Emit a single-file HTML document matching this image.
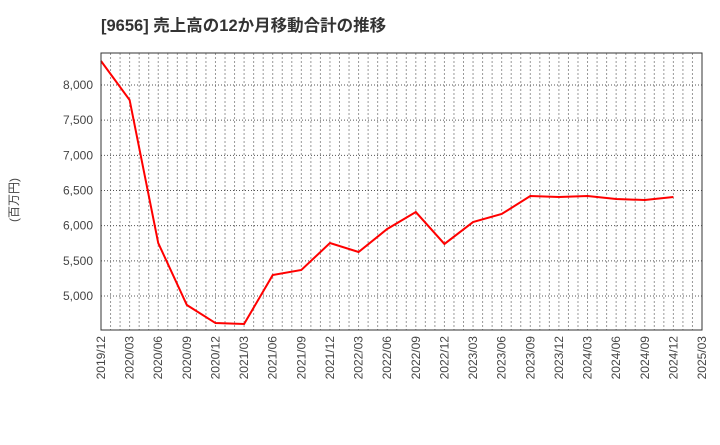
<!DOCTYPE html>
<html><head><meta charset="utf-8"><style>
body{margin:0;background:#fff;}
svg text{font-family:"Liberation Sans","Noto Sans CJK JP",sans-serif;}
</style></head><body>
<svg id="chart" width="720" height="440" xmlns="http://www.w3.org/2000/svg">
<text x="101" y="31" font-size="16.5" font-weight="bold" fill="#333">[9656]  売上高の12か月移動合計の推移</text>
<text transform="translate(18,200) rotate(-90)" font-size="12" fill="#444" text-anchor="middle">(百万円)</text>
<g id="grid"></g>
<g id="yticks"></g>
<g id="xticks"></g>
<polyline id="line" fill="none" stroke="#ff0000" stroke-width="2"/>
<rect x="101" y="53" width="601" height="277" fill="none" stroke="#333" stroke-width="1"/>
</svg>
<script>
const categories=["2019/12","2020/03","2020/06","2020/09","2020/12","2021/03","2021/06","2021/09","2021/12","2022/03","2022/06","2022/09","2022/12","2023/03","2023/06","2023/09","2023/12","2024/03","2024/06","2024/09","2024/12","2025/03"];
const values=[8341,7787,5753,4872,4616,4602,5298,5370,5753,5626,5953,6194,5740,6052,6166,6422,6408,6422,6379,6365,6408];
const yTicks=[5000,5500,6000,6500,7000,7500,8000];
const L=101,R=702,T=53,B=330;
const yMin=4517,yMax=8455;
const nQ=categories.length-1;
const xs=i=>L+(R-L)*i/nQ;
const xm=m=>L+(R-L)*m/(nQ*3);
const ys=v=>B-(B-T)*(v-yMin)/(yMax-yMin);
const NS="http://www.w3.org/2000/svg";
const grid=document.getElementById('grid'),yt=document.getElementById('yticks'),xt=document.getElementById('xticks');
for(let m=1;m<nQ*3;m++){
  const l=document.createElementNS(NS,'line');
  
  
  const x=xm(m);
  l.setAttribute('x1',x);l.setAttribute('x2',x);l.setAttribute('y1',T);l.setAttribute('y2',B);
  l.setAttribute('stroke','#999');l.setAttribute('stroke-dasharray','2,2');l.setAttribute('stroke-width','1');
  grid.appendChild(l);
}
yTicks.forEach(v=>{
  const y=ys(v);
  const l=document.createElementNS(NS,'line');
  
  
  l.setAttribute('x1',L);l.setAttribute('x2',R);l.setAttribute('y1',y);l.setAttribute('y2',y);
  l.setAttribute('stroke','#555');l.setAttribute('stroke-dasharray','1,2');
  grid.appendChild(l);
  const t=document.createElementNS(NS,'text');
  
  
  t.setAttribute('x',L-8);t.setAttribute('y',y+4);t.setAttribute('text-anchor','end');t.setAttribute('font-size','12');t.setAttribute('fill','#444');
  t.textContent=v.toLocaleString('en-US');
  yt.appendChild(t);
});
categories.forEach((c,i)=>{
  const x=xs(i);
  const t=document.createElementNS(NS,'text');
  
  
  t.setAttribute('transform','translate('+(x+4)+','+(B+6)+') rotate(-90)');
  t.setAttribute('text-anchor','end');t.setAttribute('font-size','12');t.setAttribute('fill','#444');
  t.textContent=c;
  xt.appendChild(t);
});
document.getElementById('line').setAttribute('points',values.map((v,i)=>xs(i)+','+ys(v)).join(' '));
</script>
</body></html>
